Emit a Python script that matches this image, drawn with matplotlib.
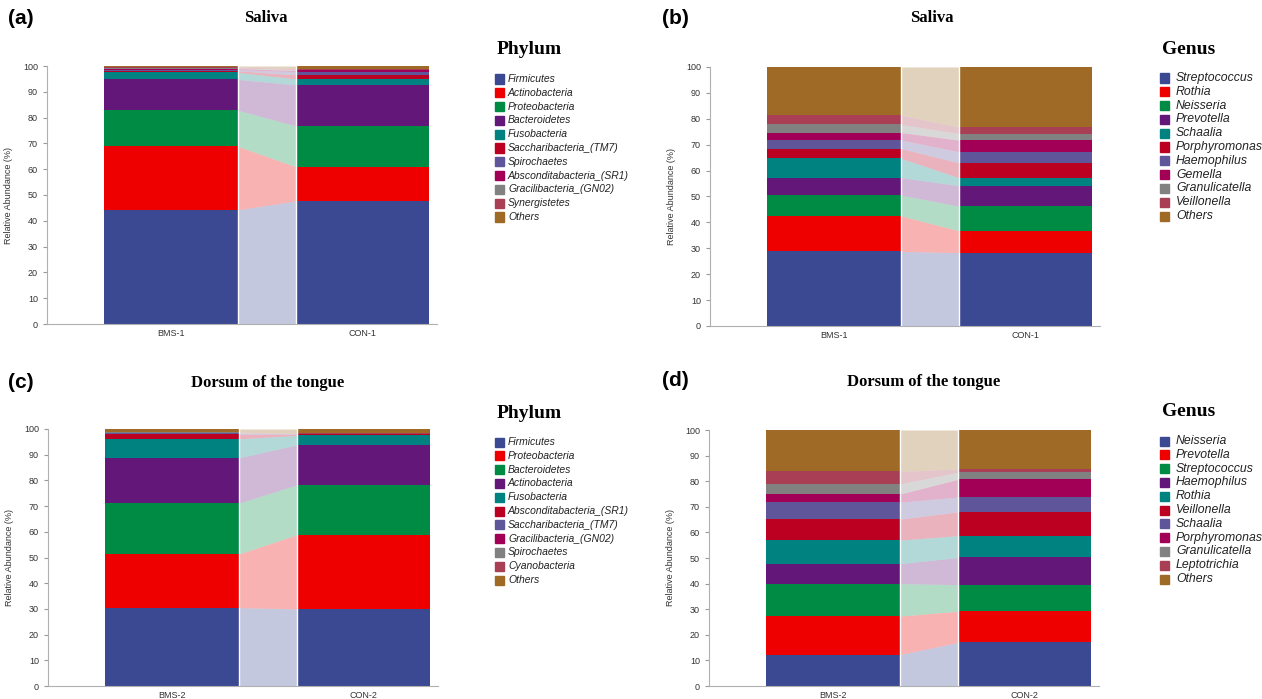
import matplotlib
matplotlib.use("Agg")
from matplotlib import pyplot as plt
from matplotlib.patches import Rectangle
import numpy as np

plt.rcParams['font.family'] = ['Liberation Sans', 'DejaVu Sans']

samples_1 = ["BMS-1", "CON-1"]
samples_2 = ["BMS-2", "CON-2"]

# (a) saliva, phylum
phylum_saliva = ["Firmicutes", "Actinobacteria", "Proteobacteria", "Bacteroidetes",
                 "Fusobacteria", "Saccharibacteria_(TM7)", "Spirochaetes",
                 "Absconditabacteria_(SR1)", "Gracilibacteria_(GN02)", "Synergistetes", "Others"]
phylum_saliva_bms = [44.3, 24.5, 14.0, 12.0, 2.7, 0.6, 0.4, 0.5, 0.2, 0.4, 0.4]
phylum_saliva_con = [47.7, 13.3, 15.8, 15.9, 2.3, 1.6, 1.2, 0.5, 0.3, 0.4, 1.0]

# (b) saliva, genus
genus_saliva = ["Streptococcus", "Rothia", "Neisseria", "Prevotella", "Schaalia",
                "Porphyromonas", "Haemophilus", "Gemella", "Granulicatella", "Veillonella", "Others"]
genus_saliva_bms = [28.8, 13.7, 8.0, 6.8, 7.4, 3.8, 3.3, 2.9, 3.1, 3.6, 18.6]
genus_saliva_con = [28.3, 8.5, 9.5, 7.9, 3.1, 5.7, 4.3, 4.5, 2.5, 2.5, 23.2]

# (c) dorsum of the tongue, phylum
phylum_tongue = ["Firmicutes", "Proteobacteria", "Bacteroidetes", "Actinobacteria",
                 "Fusobacteria", "Absconditabacteria_(SR1)", "Saccharibacteria_(TM7)",
                 "Gracilibacteria_(GN02)", "Spirochaetes", "Cyanobacteria", "Others"]
phylum_tongue_bms = [30.5, 20.9, 19.8, 17.6, 7.4, 1.8, 0.3, 0.1, 0.3, 0.1, 1.2]
phylum_tongue_con = [30.0, 28.8, 19.4, 15.6, 3.7, 0.4, 0.1, 0.1, 0.1, 0.2, 1.6]

# (d) dorsum of the tongue, genus
genus_tongue = ["Neisseria", "Prevotella", "Streptococcus", "Haemophilus", "Rothia",
                "Veillonella", "Schaalia", "Porphyromonas", "Granulicatella", "Leptotrichia", "Others"]
genus_tongue_bms = [12.3, 15.0, 12.7, 7.8, 9.2, 8.2, 6.6, 3.2, 4.0, 4.8, 16.2]
genus_tongue_con = [17.0, 12.2, 10.4, 10.6, 8.5, 9.3, 5.8, 6.9, 2.7, 1.4, 15.2]

colors = ["#3B4992", "#EE0000", "#008B45", "#631879", "#008280", "#BB0021",
          "#5F559B", "#A20056", "#808180", "#A83F55", "#9E6A26"]

fig = plt.figure(figsize=(12.62, 6.99), dpi=100)
W, H = 1262.0, 699.0


def fx(px):
    return px / W


def fy(py):
    return 1 - py / H


def panel(rect, samples, v1, v2, letter, title, title_xy, letter_xy,
          leg_title, leg_xy, names, leg_size, text_dx):
    ax = fig.add_axes(rect)
    bw = 0.7
    b1 = np.concatenate([[0], np.cumsum(v1)[:-1]])
    b2 = np.concatenate([[0], np.cumsum(v2)[:-1]])
    for i in range(len(v1)):
        ax.bar(0, v1[i], bw, bottom=b1[i], color=colors[i], linewidth=0)
        ax.bar(1, v2[i], bw, bottom=b2[i], color=colors[i], linewidth=0)
        xs = [bw / 2, 1 - bw / 2]
        ax.fill_between(xs, [b1[i], b2[i]], [b1[i] + v1[i], b2[i] + v2[i]],
                        color=colors[i], alpha=0.3, linewidth=0)
    for x in [bw / 2, 1 - bw / 2]:
        ax.axvline(x, color="white", lw=1.0, zorder=3)
    ax.set_xlim(-0.65, 1.39)
    ax.set_ylim(0, 100)
    ax.set_yticks(range(0, 101, 10))
    ax.set_xticks([0, 1])
    ax.set_xticklabels(samples)
    ax.tick_params(labelsize=6.5, colors="#999999", labelcolor="#333333", length=3, width=0.8)
    ax.tick_params(axis="x", length=0)
    for s in ["top", "right"]:
        ax.spines[s].set_visible(False)
    for s in ["left", "bottom"]:
        ax.spines[s].set_color("#b0b0b0")
    ax.set_ylabel("Relative Abundance (%)", fontsize=6.5, color="#333333", labelpad=7)

    fig.text(fx(letter_xy[0]), fy(letter_xy[1]), letter, fontsize=15, fontweight="bold",
             ha="left", va="center")
    fig.text(fx(title_xy[0]), fy(title_xy[1]), title, fontsize=12, fontweight="bold",
             family="Liberation Serif", ha="center", va="center")
    fig.text(fx(leg_xy[0]), fy(leg_xy[1]), leg_title, fontsize=14, fontweight="bold",
             family="Liberation Serif", ha="left", va="center")
    for i, name in enumerate(names):
        y = leg_xy[1] + 29 + i * 13.8
        fig.patches.append(Rectangle((fx(leg_xy[0] - 2), fy(y + 4.5)), 9 / W, 9 / H,
                                     transform=fig.transFigure, color=colors[i], figure=fig))
        fig.text(fx(leg_xy[0] + text_dx), fy(y), name, fontsize=leg_size, style="italic",
                 ha="left", va="center", color="#222222")
    return ax


panel([fx(47), fy(324), fx(390), 258 / H], samples_1, phylum_saliva_bms, phylum_saliva_con,
      "(a)", "Saliva", (266, 18), (8, 18), "Phylum", (497, 50), phylum_saliva, 7.5, 11)
panel([fx(710), fy(326), fx(390), 259 / H], samples_1, genus_saliva_bms, genus_saliva_con,
      "(b)", "Saliva", (932, 18), (662, 18), "Genus", (1162, 49), genus_saliva, 8.8, 14)
panel([fx(48), fy(686), fx(390), 257 / H], samples_2, phylum_tongue_bms, phylum_tongue_con,
      "(c)", "Dorsum of the tongue", (268, 383), (8, 382), "Phylum", (497, 413), phylum_tongue, 7.5, 11)
panel([fx(709), fy(686), fx(390), 256 / H], samples_2, genus_tongue_bms, genus_tongue_con,
      "(d)", "Dorsum of the tongue", (924, 382), (662, 381), "Genus", (1162, 412), genus_tongue, 8.8, 14)

fig.savefig("out.png", dpi=100)
